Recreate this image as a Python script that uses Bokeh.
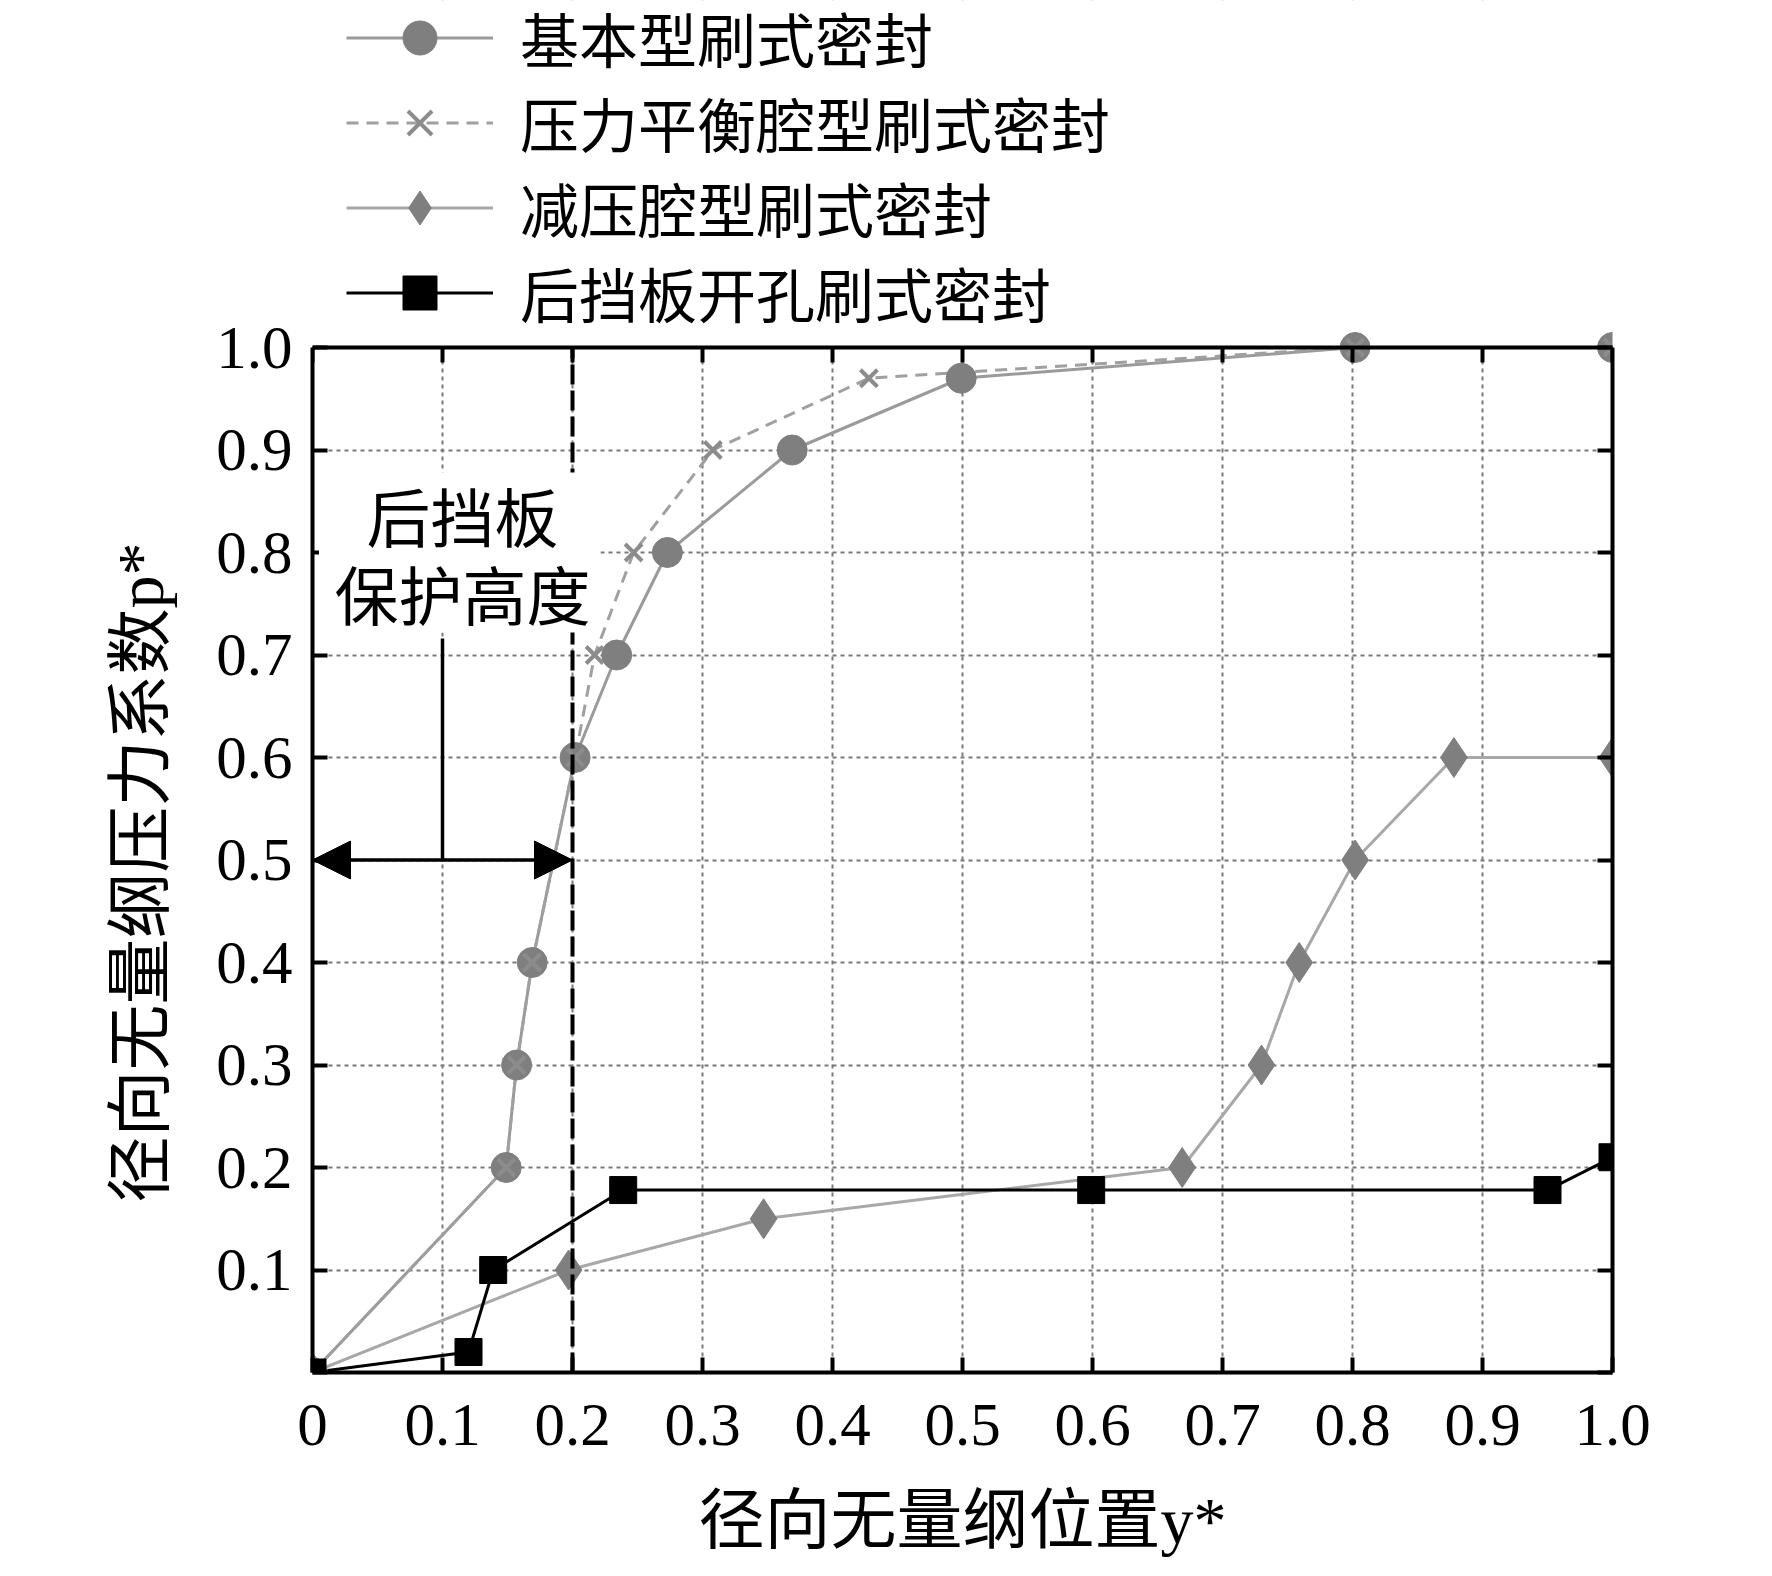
from bokeh.plotting import figure
from bokeh.models import (Range1d, LinearAxis, FixedTicker, BoxAnnotation,
                          Label, Arrow, NormalHead, Legend, LegendItem, Title)
from bokeh.embed import file_html
from bokeh.resources import INLINE

# ---------------- data ----------------
basic_x = [0.0, 0.149, 0.157, 0.169, 0.202, 0.234, 0.273, 0.369, 0.499, 0.802, 1.0]
basic_y = [0.0, 0.20, 0.30, 0.40, 0.60, 0.70, 0.80, 0.90, 0.970, 1.0, 1.0]

balance_x = [0.0, 0.149, 0.157, 0.169, 0.202, 0.217, 0.247, 0.308, 0.428, 0.802, 1.0]
balance_y = [0.0, 0.20, 0.30, 0.40, 0.60, 0.70, 0.80, 0.90, 0.970, 1.0, 1.0]

relief_x = [0.0, 0.197, 0.347, 0.669, 0.730, 0.759, 0.802, 0.878, 1.0]
relief_y = [0.0, 0.10, 0.15, 0.20, 0.30, 0.40, 0.50, 0.60, 0.60]

hole_x = [0.0, 0.120, 0.139, 0.239, 0.599, 0.950, 1.0]
hole_y = [0.0, 0.020, 0.100, 0.178, 0.178, 0.178, 0.210]

series_names = ["基本型刷式密封", "压力平衡腔型刷式密封", "减压腔型刷式密封", "后挡板开孔刷式密封"]

x_ticks = [0.0, 0.1, 0.2, 0.3, 0.4, 0.5, 0.6, 0.7, 0.8, 0.9, 1.0]
x_tick_labels = ["0", "0.1", "0.2", "0.3", "0.4", "0.5", "0.6", "0.7", "0.8", "0.9", "1.0"]
y_ticks = [0.0, 0.1, 0.2, 0.3, 0.4, 0.5, 0.6, 0.7, 0.8, 0.9, 1.0]
y_tick_labels = ["", "0.1", "0.2", "0.3", "0.4", "0.5", "0.6", "0.7", "0.8", "0.9", "1.0"]

x_title = "径向无量纲位置y*"
y_title = "径向无量纲压力系数p*"

backplate_height = 0.2        # 后挡板保护高度 (y*)
arrow_level = 0.5
note_lines = ["后挡板", "保护高度"]

# ---------------- layout constants (pixels) ----------------
PX_PER_UNIT_Y = 1025          # plot area height for y* from 0 to 1
LEGEND_SPACE = 347            # room above the plot area that holds the legend
FRAME_H = PX_PER_UNIT_Y + LEGEND_SPACE
Y_TOP = 1 + LEGEND_SPACE / PX_PER_UNIT_Y

SERIF = "Liberation Serif"
CJK = "Noto Sans CJK SC"
MIXED = "Liberation Serif, Noto Sans CJK SC"

p = figure(frame_width=1300, frame_height=FRAME_H,
           min_border_left=312, min_border_right=144,
           min_border_top=0, min_border_bottom=188,
           x_range=Range1d(0, 1), y_range=Range1d(0, Y_TOP),
           output_backend="svg", toolbar_location=None)
p.outline_line_color = None
p.background_fill_color = "white"
p.border_fill_color = "white"

xt = FixedTicker(ticks=x_ticks)
yt = FixedTicker(ticks=y_ticks)


def style_axis(ax, ticker, labels, show):
    ax.ticker = ticker
    ax.axis_line_width = 4
    ax.axis_line_color = "black"
    ax.major_tick_in = 15
    ax.major_tick_out = 0
    ax.major_tick_line_width = 4
    ax.major_tick_line_color = "black"
    ax.minor_tick_line_color = None
    ax.major_label_text_font = SERIF
    ax.major_label_text_color = "black"
    if show:
        ax.major_label_overrides = {t: l for t, l in zip(ticker.ticks, labels)}
        ax.major_label_text_font_size = "61px"
    else:
        ax.major_label_overrides = {t: "" for t in ticker.ticks}
        ax.major_label_text_font_size = "0px"
        ax.major_label_standoff = 0


style_axis(p.xaxis[0], xt, x_tick_labels, True)
style_axis(p.yaxis[0], yt, y_tick_labels, True)
p.xaxis[0].major_label_standoff = 32
p.yaxis[0].major_label_standoff = 20
p.yaxis[0].bounds = (0, 1)

p.xaxis[0].axis_label = x_title
p.xaxis[0].axis_label_text_font = MIXED
p.xaxis[0].axis_label_text_font_size = "66px"
p.xaxis[0].axis_label_text_font_style = "normal"
p.xaxis[0].axis_label_text_color = "black"
p.xaxis[0].axis_label_standoff = 36

top_ax = LinearAxis(fixed_location=1.0)
style_axis(top_ax, xt, x_tick_labels, False)
p.add_layout(top_ax, "above")
right_ax = LinearAxis(bounds=(0, 1))
style_axis(right_ax, yt, y_tick_labels, False)
p.add_layout(right_ax, "right")

p.add_layout(Title(text=y_title, text_font=MIXED, text_font_size="66px",
                   text_font_style="normal", text_color="black",
                   align="left", offset=170, standoff=74), "left")

for g, t in ((p.xgrid[0], xt), (p.ygrid[0], yt)):
    g.ticker = t
    g.grid_line_color = "#7a7a7a"
    g.grid_line_dash = "4 4"
    g.grid_line_width = 2

# keep the legend area above the plot area clean of grid lines
p.add_layout(BoxAnnotation(bottom=1.0, fill_color="white", fill_alpha=1.0,
                           line_color=None, level="underlay"))

# ---------------- series ----------------
GRAY = "#7f7f7f"
l1 = p.line(basic_x, basic_y, line_color="#9a9a9a", line_width=3)
l2 = p.line(balance_x, balance_y, line_color="#a0a0a0", line_width=3, line_dash="12 8")
l3 = p.line(relief_x, relief_y, line_color="#a8a8a8", line_width=3)
l4 = p.line(hole_x, hole_y, line_color="black", line_width=3)

m3 = p.scatter(relief_x, relief_y, marker="diamond", size=40,
               fill_color=GRAY, line_color=GRAY)
m1 = p.scatter(basic_x, basic_y, marker="circle", size=30,
               fill_color=GRAY, line_color=GRAY)
m2 = p.scatter(balance_x, balance_y, marker="x", size=24,
               line_color="#8c8c8c", line_width=4)
m4 = p.scatter(hole_x, hole_y, marker="square", size=27,
               fill_color="black", line_color="black")

# ---------------- annotations inside the plot area ----------------
# dashed line marking the backplate protection height (y* = 0.2), from p*=0 to p*=1
p.add_layout(Arrow(start=None, end=None, x_start=backplate_height, y_start=0.0,
                   x_end=backplate_height, y_end=1.0,
                   line_color="black", line_width=4, line_dash="20 6"))
p.add_layout(BoxAnnotation(left=0.005, right=0.2215, bottom=0.722, top=0.878,
                           fill_color="white", fill_alpha=1.0, line_color=None))
p.add_layout(Label(x=0.1154, y=0.838, text=note_lines[0], text_font=CJK,
                   text_font_size="64px", text_align="center",
                   text_baseline="middle", text_color="black"))
p.add_layout(Label(x=0.1154, y=0.761, text=note_lines[1], text_font=CJK,
                   text_font_size="64px", text_align="center",
                   text_baseline="middle", text_color="black"))
p.add_layout(Arrow(end=None, start=None, x_start=0.1, y_start=arrow_level,
                   x_end=0.1, y_end=0.716, line_color="black", line_width=3.5))
p.add_layout(Arrow(x_start=0.0, y_start=arrow_level, x_end=backplate_height, y_end=arrow_level,
                   line_color="black", line_width=3.5,
                   start=NormalHead(size=38, fill_color="black", line_color="black"),
                   end=NormalHead(size=38, fill_color="black", line_color="black")))

# ---------------- legend (in the area above p*=1) ----------------
LEGEND_FONT_PX = 59
ROW_H = 85                      # ~ line height of the CJK label text
LEGEND_H = 4 * ROW_H + 2
LEGEND_TOP_OFFSET = 7           # empty part of the first text box may sit above the top edge
legend = Legend(items=[
    LegendItem(label=series_names[0], renderers=[l1, m1]),
    LegendItem(label=series_names[1], renderers=[l2, m2]),
    LegendItem(label=series_names[2], renderers=[l3, m3]),
    LegendItem(label=series_names[3], renderers=[l4, m4]),
], location=(34, FRAME_H - LEGEND_H + LEGEND_TOP_OFFSET))
legend.orientation = "vertical"
legend.glyph_width = 147
legend.glyph_height = ROW_H
legend.label_height = ROW_H
legend.spacing = 0
legend.padding = 0
legend.margin = 0
legend.label_standoff = 27
legend.label_text_font = CJK
legend.label_text_font_size = f"{LEGEND_FONT_PX}px"
legend.label_text_color = "black"
legend.label_text_baseline = "middle"
legend.border_line_color = None
legend.background_fill_alpha = 0
p.add_layout(legend, "center")

open("out.html", "w").write(file_html(p, INLINE))
